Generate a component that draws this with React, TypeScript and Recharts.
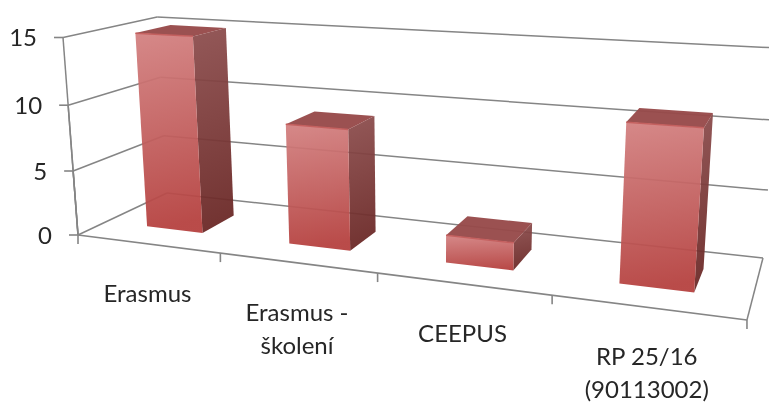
import React from 'react';
import { BarChart, Bar, XAxis, YAxis, CartesianGrid } from 'recharts';

const categories = ['Erasmus', 'Erasmus -\nškolení', 'CEEPUS', 'RP 25/16\n(90113002)'];
const values = [15, 9, 2, 11];
const valueTicks = [0, 5, 10, 15];

const chartData = categories.map((name, i) => ({ name, value: values[i] }));

const margin = { top: 20, right: 20, left: 0, bottom: 0 };
const yAxisWidth = 60;
const xAxisHeight = 40;
const chartWidth = 769;
const chartHeight = 403;
const plotLeft = margin.left + yAxisWidth;
const plotTop = margin.top;
const plotWidth = chartWidth - plotLeft - margin.right;
const plotHeight = chartHeight - plotTop - xAxisHeight - margin.bottom;
const maxValue = valueTicks[valueTicks.length - 1];

const gridColor = '#858585';
const textColor = '#262626';
const labelFont = 'Lato, "Open Sans", sans-serif';

// depth of the bars inside the floor, 0 = front edge, 1 = back wall
const barDepthFront = 0.3;
const barDepthBack = 0.69;

// perspective fitted on the corners of the floor and the value axis
const project = (u: number, v: number, w: number): [number, number] => {
  const d = 1 - 0.18885 * u + 0.12755 * v - 0.00275 * w;
  const px = 78 + 527.9 * u + 110.3 * v - 1.173 * w;
  const py = 235 + 24.57 * u - 17.38 * v - 13.27 * w;
  return [px / d, py / d];
};

const toU = (x: number) => (x - plotLeft) / plotWidth;
const toW = (y: number) => ((plotTop + plotHeight - y) / plotHeight) * maxValue;

const points = (list: Array<[number, number, number]>) =>
  list.map(([u, v, w]) => project(u, v, w).map((n) => n.toFixed(1)).join(',')).join(' ');

const Seg = ({ from, to, width = 1.5 }: { from: [number, number, number]; to: [number, number, number]; width?: number }) => {
  const [x1, y1] = project(from[0], from[1], from[2]);
  const [x2, y2] = project(to[0], to[1], to[2]);
  return <line x1={x1} y1={y1} x2={x2} y2={y2} stroke={gridColor} strokeWidth={width} />;
};

// one value level of the grid: left wall, back wall, and the floor for zero
const gridRow = (props: any) => {
  const w = toW(props.y1);
  return (
    <g key={props.key ?? w}>
      <Seg from={[0, 0, w]} to={[0, 1, w]} />
      <Seg from={[0, 1, w]} to={[1, 1, w]} />
      <Seg from={[0, 0, 0]} to={[0, 0, w]} />
      {w < 0.01 ? (
        <>
          <Seg from={[0, 0, 0]} to={[1, 0, 0]} width={1.7} />
          <Seg from={[1, 0, 0]} to={[1, 1, 0]} />
        </>
      ) : null}
    </g>
  );
};

const ValueTick = (props: any) => {
  const w = toW(props.y);
  const [x, y] = project(0, 0, w);
  return (
    <g>
      <line x1={x - 9} y1={y} x2={x} y2={y} stroke={gridColor} strokeWidth={1.6} />
      <text x={x - 26} y={y + 9} textAnchor="end" fontSize={24} fontFamily={labelFont} fill={textColor}>
        {props.payload.value}
      </text>
    </g>
  );
};

const CategoryTick = (props: any) => {
  const u = toU(props.x);
  const band = 1 / categories.length;
  const [x, y] = project(u, 0, 0);
  const lines = String(props.payload.value).split('\n');
  const marks = props.index === categories.length - 1 ? [u - band / 2, u + band / 2] : [u - band / 2];
  return (
    <g>
      {marks.map((m) => {
        const [mx, my] = project(m, 0, 0);
        return <line key={m} x1={mx} y1={my} x2={mx} y2={my + 9} stroke={gridColor} strokeWidth={1.6} />;
      })}
      {lines.map((line, i) => (
        <text key={line} x={x} y={y + 58 + i * 33} textAnchor="middle" fontSize={24} fontFamily={labelFont} fill={textColor}>
          {line}
        </text>
      ))}
    </g>
  );
};

const Box = (props: any) => {
  const u0 = toU(props.x);
  const u1 = toU(props.x + props.width);
  const w = toW(props.y);
  const v0 = barDepthFront;
  const v1 = barDepthBack;
  const [ex1, ey1] = project(u0, v0, w);
  const [ex2, ey2] = project(u1, v0, w);
  return (
    <g>
      <polygon
        points={points([[u1, v0, 0], [u1, v1, 0], [u1, v1, w], [u1, v0, w]])}
        fill="url(#boxSide)"
        fillOpacity={0.94}
      />
      <polygon
        points={points([[u0, v0, w], [u1, v0, w], [u1, v1, w], [u0, v1, w]])}
        fill="#974a4a"
        fillOpacity={0.96}
      />
      <polygon
        points={points([[u0, v0, 0], [u1, v0, 0], [u1, v0, w], [u0, v0, w]])}
        fill="url(#boxFront)"
        fillOpacity={0.94}
      />
      <line x1={ex1} y1={ey1} x2={ex2} y2={ey2} stroke="#c4605f" strokeWidth={1.5} />
    </g>
  );
};

export default function App() {
  return (
    <div style={{ position: 'absolute', left: 0, top: 0, width: chartWidth, height: chartHeight, overflow: 'hidden', background: '#fff', filter: 'blur(0.45px)' }}>
      <BarChart width={chartWidth} height={chartHeight} data={chartData} margin={margin} barCategoryGap="30%">
        <defs>
          <linearGradient id="boxFront" x1="0" y1="0" x2="0.08" y2="1">
            <stop offset="0" stopColor="#d38181" />
            <stop offset="0.55" stopColor="#c25e5d" />
            <stop offset="1" stopColor="#b5403e" />
          </linearGradient>
          <linearGradient id="boxSide" x1="0" y1="0" x2="0.08" y2="1">
            <stop offset="0" stopColor="#8d4e4e" />
            <stop offset="1" stopColor="#6a2725" />
          </linearGradient>
        </defs>
        <CartesianGrid vertical={false} horizontal={gridRow} />
        <XAxis
          dataKey="name"
          height={xAxisHeight}
          axisLine={false}
          tickLine={false}
          interval={0}
          tick={CategoryTick}
        />
        <YAxis
          width={yAxisWidth}
          domain={[0, maxValue]}
          ticks={valueTicks}
          axisLine={false}
          tickLine={false}
          tick={ValueTick}
        />
        <Bar dataKey="value" shape={Box} isAnimationActive={false} />
      </BarChart>
    </div>
  );
}
